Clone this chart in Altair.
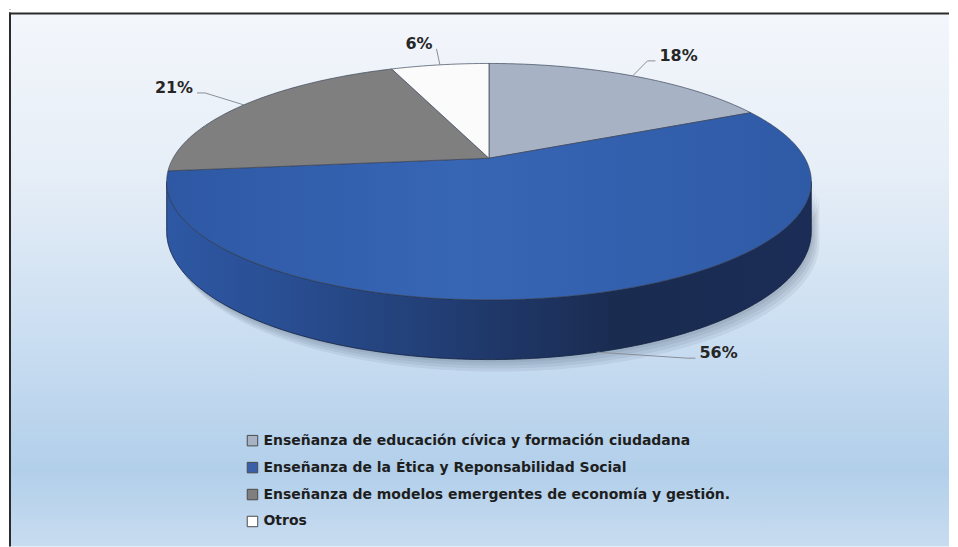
import math
import altair as alt
import pandas as pd

# ---------------- data ----------------
categories = [
    "Enseñanza de educación cívica y formación ciudadana",
    "Enseñanza de la Ética y Reponsabilidad Social",
    "Enseñanza de modelos emergentes de economía y gestión.",
    "Otros",
]
values = [18, 56, 21, 6]
value_labels = ["18%", "56%", "21%", "6%"]

# ---------------- style ----------------
top_colors = ["#A7B3C5", "#3461AE", "#7F7F7F", "#FBFBFB"]
legend_colors = ["#A7B3C5", "#3A5FA8", "#7F7F7F", "#FFFFFF"]
label_offsets = [(46, -20), (122, 1), (-70, -17), (-21, -21)]  # label placement vs. slice edge

# perspective pie geometry (page pixel units)
CX, CY = 489.0, 158.0
A, B, P, DEPTH = 316.6, 113.8, 0.198, 48.0

W, H = 942, 539
xs = alt.Scale(domain=[8, 8 + W], nice=False, zero=False)
ys = alt.Scale(domain=[8, 8 + H], nice=False, zero=False, reverse=True)


def rim(theta_deg):
    t = math.radians(theta_deg)
    w = 1 + P * math.cos(t)
    return CX + A * math.sin(t) / w, CY - B * math.cos(t) / w, w


def angles(a, b, step=0.5):
    n = max(2, int(abs(b - a) / step) + 1)
    return [a + (b - a) * i / (n - 1) for i in range(n)]


total = float(sum(values))
bounds = []
acc = 0.0
for v in values:
    bounds.append((acc / total * 360.0, (acc + v) / total * 360.0))
    acc += v

t_left = math.degrees(math.acos(-P))
t_right = 360.0 - t_left


def enc(chart):
    return chart.encode(
        x=alt.X("x:Q", scale=xs, axis=None),
        y=alt.Y("y:Q", scale=ys, axis=None),
        order=alt.Order("o:Q"),
    )


layers = []

# dummy layer that only produces the legend (hidden under the background)
leg_df = pd.DataFrame({"cat": categories, "x": [9] * 4, "y": [9] * 4, "o": [0, 1, 2, 3]})
layers.append(
    alt.Chart(leg_df)
    .mark_square(size=1)
    .encode(
        x=alt.X("x:Q", scale=xs, axis=None),
        y=alt.Y("y:Q", scale=ys, axis=None),
        fill=alt.Fill(
            "cat:N",
            scale=alt.Scale(domain=categories, range=legend_colors),
            sort=categories,
            legend=alt.Legend(
                title=None,
                orient="none",
                legendX=237,
                legendY=426,
                symbolType="square",
                symbolSize=110,
                symbolStrokeColor="#4a4a4a",
                symbolStrokeWidth=1,
                symbolOpacity=1,
                labelFont="DejaVu Sans",
                labelFontSize=14,
                labelFontWeight="bold",
                labelColor="#1e1e1e",
                labelLimit=800,
                labelOffset=4,
                rowPadding=11,
                padding=0,
            ),
        ),
    )
)

# background panel
bg = pd.DataFrame({"a": [0]})
layers.append(
    alt.Chart(bg)
    .mark_rect(
        fill=alt.Gradient(
            gradient="linear",
            x1=0, x2=0, y1=0, y2=1,
            stops=[
                alt.GradientStop(color="#F3F6FB", offset=0),
                alt.GradientStop(color="#E6EEF7", offset=0.3),
                alt.GradientStop(color="#C9DDF1", offset=0.62),
                alt.GradientStop(color="#B2CFEA", offset=0.86),
                alt.GradientStop(color="#C8DCF0", offset=1),
            ],
        )
    )
    .encode(x=alt.value(0), x2=alt.value(W), y=alt.value(5), y2=alt.value(H))
)
layers.append(
    alt.Chart(bg).mark_rule(color="#2b2b2b", strokeWidth=2)
    .encode(x=alt.value(1), y=alt.value(4), y2=alt.value(H))
)
layers.append(
    alt.Chart(bg).mark_rule(color="#2b2b2b", strokeWidth=2)
    .encode(x=alt.value(0), x2=alt.value(W), y=alt.value(5))
)

# soft shadow under the pie body
rows = []
for k, (dx, dy) in enumerate([(2, 3), (4, 6), (6, 9), (8, 12)]):
    o = 0
    for t in angles(t_left, t_right):
        x, y, w = rim(t)
        rows.append({"g": k, "o": o, "x": x + dx, "y": y + dy}); o += 1
    for t in reversed(angles(t_left, t_right)):
        x, y, w = rim(t)
        rows.append({"g": k, "o": o, "x": x + dx, "y": y + DEPTH / w + dy}); o += 1
layers.append(
    enc(alt.Chart(pd.DataFrame(rows)).mark_line(fill="#1a2a40", fillOpacity=0.07, strokeOpacity=0))
    .encode(detail="g:N")
)

# side (front wall) of every slice that faces the viewer
side_fill = alt.Gradient(
    gradient="linear",
    x1=0, x2=1, y1=0, y2=0,
    stops=[
        alt.GradientStop(color="#2E58A4", offset=0),
        alt.GradientStop(color="#294E92", offset=0.18),
        alt.GradientStop(color="#213C71", offset=0.45),
        alt.GradientStop(color="#1A2B50", offset=0.7),
        alt.GradientStop(color="#1B2D56", offset=1),
    ],
)
side_colors = ["#6F7B8C", side_fill, "#555555", "#B8B8B8"]
for i, (a, b) in enumerate(bounds):
    lo, hi = max(a, t_left), min(b, t_right)
    if hi <= lo:
        continue
    rows = []
    o = 0
    for t in angles(lo, hi):
        x, y, w = rim(t)
        rows.append({"o": o, "x": x, "y": y}); o += 1
    for t in reversed(angles(lo, hi)):
        x, y, w = rim(t)
        rows.append({"o": o, "x": x, "y": y + DEPTH / w}); o += 1
    rows.append({"o": o, "x": rows[0]["x"], "y": rows[0]["y"]})
    layers.append(
        enc(alt.Chart(pd.DataFrame(rows)).mark_line(
            fill=side_colors[i], stroke="#13213d", strokeWidth=0.8, strokeJoin="round"))
    )

# top faces
top_fill = [
    top_colors[0],
    alt.Gradient(
        gradient="linear",
        x1=0, x2=1, y1=0, y2=0,
        stops=[
            alt.GradientStop(color="#2E58A4", offset=0),
            alt.GradientStop(color="#3766B5", offset=0.45),
            alt.GradientStop(color="#2F5AA6", offset=1),
        ],
    ),
    top_colors[2],
    top_colors[3],
]
for i, (a, b) in enumerate(bounds):
    rows = [{"o": 0, "x": CX, "y": CY}]
    o = 1
    for t in angles(a, b):
        x, y, w = rim(t)
        rows.append({"o": o, "x": x, "y": y}); o += 1
    rows.append({"o": o, "x": CX, "y": CY})
    layers.append(
        enc(alt.Chart(pd.DataFrame(rows)).mark_line(
            fill=top_fill[i], stroke="#3a4458", strokeWidth=0.7, strokeJoin="round"))
    )

# data labels with leader lines
lab_rows, lead_rows = [], []
FS = 16
for i, (a, b) in enumerate(bounds):
    m = (a + b) / 2
    x, y, w = rim(m)
    if t_left <= m <= t_right:
        y = y + DEPTH / w
    dx, dy = label_offsets[i]
    lx, ly = x + dx, y + dy
    lab_rows.append({"x": lx, "y": ly, "t": value_labels[i]})
    hw = (0.696 * (len(value_labels[i]) - 1) + 1.0) * FS / 2
    side = 1 if dx > 0 else -1
    ex = lx - side * (hw + 4)
    ey = ly + 5
    pts = [(x, y), (ex - side * 8, ey), (ex, ey)] if abs(dx) > 30 else [(x, y), (ex, ey)]
    for j, (px, py) in enumerate(pts):
        lead_rows.append({"g": i, "o": j, "x": px, "y": py})

layers.append(
    enc(alt.Chart(pd.DataFrame(lead_rows)).mark_line(color="#8a8f98", strokeWidth=1))
    .encode(detail="g:N")
)
layers.append(
    alt.Chart(pd.DataFrame(lab_rows))
    .mark_text(font="DejaVu Sans", fontSize=FS, fontWeight="bold", color="#262626",
               align="center", baseline="middle")
    .encode(
        x=alt.X("x:Q", scale=xs, axis=None),
        y=alt.Y("y:Q", scale=ys, axis=None),
        text="t:N",
    )
)

chart = (
    alt.layer(*layers)
    .properties(width=W, height=H, padding=0, background="#FFFFFF")
    .configure_view(stroke=None)
)

chart.save("out.html", embed_options={"renderer": "svg", "actions": False})
